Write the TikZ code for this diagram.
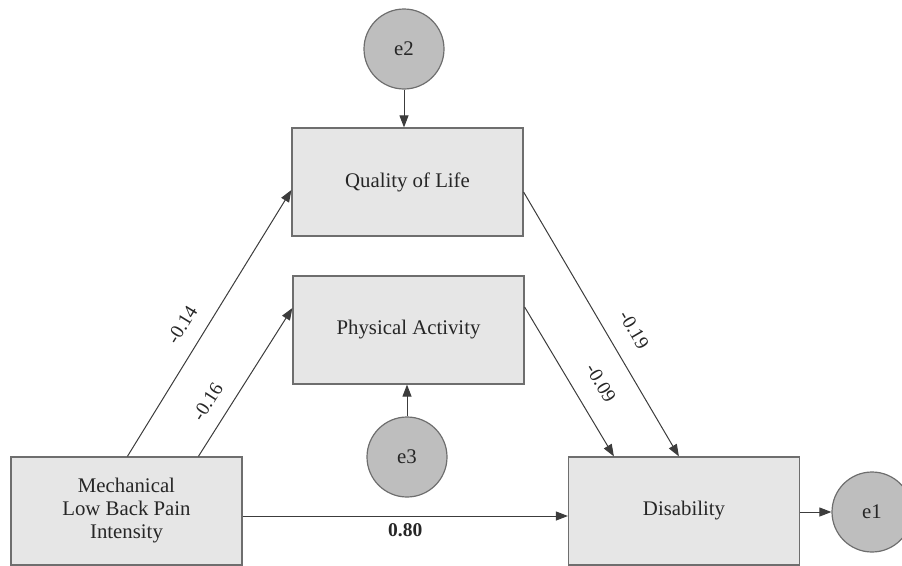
\documentclass[tikz,border=0pt]{standalone}
\usepackage{fontspec}
\setmainfont{Liberation Serif}
\usetikzlibrary{arrows.meta}
\definecolor{boxfill}{HTML}{E6E6E6}
\definecolor{boxline}{HTML}{6E6E6E}
\definecolor{errfill}{HTML}{BEBEBE}
\definecolor{linecol}{HTML}{3C3C3C}

\begin{document}
\begin{tikzpicture}[x=1pt,y=-1pt,
    var/.style={draw=boxline,fill=boxfill,line width=1.2pt,minimum width=231pt,minimum height=108pt,align=center,text=black!85,font=\fontsize{20.8}{23}\selectfont},
    err/.style={circle,draw=boxline,fill=errfill,line width=1.2pt,minimum size=80pt,inner sep=0pt,text=black!85,font=\fontsize{20.8}{23}\selectfont},
    link/.style={draw=linecol,line width=1pt,-{Triangle[length=12pt,width=9pt]}},
    coef/.style={sloped,text=black!85,font=\fontsize{19.5}{22}\selectfont}]
    \useasboundingbox (0,0) rectangle (902,565);
    \node[var] (qol) at (407.5,182) {Quality of Life};
    \node[var] (pa) at (408.5,330) {Physical Activity};
    \node[var] (mech) at (126.5,511) {Mechanical\\Low Back Pain\\Intensity};
    \node[var] (dis) at (684,511) {Disability};
    \node[err] (e2) at (404,49) {e2};
    \node[err] (e3) at (407,457) {e3};
    \node[err] (e1) at (872,512) {e1};
    \draw[link] ([xshift=117pt]mech.north west) -- node[coef,pos=0.45,above=12pt] {-0.14} ([yshift=-8pt]qol.west);
    \draw[link] ([xshift=188pt]mech.north west) -- node[coef,pos=0.29,above=11pt] {-0.16} ([yshift=22pt]pa.west);
    \draw[link] ([yshift=-10pt]qol.east) -- node[coef,pos=0.57,above=15pt] {-0.19} ([xshift=111pt]dis.north west);
    \draw[link] ([yshift=23pt]pa.east) -- node[coef,pos=0.6,above=16pt] {-0.09} ([xshift=46pt]dis.north west);
    \draw[link] ([yshift=-5pt]mech.east) -- node[below=4pt,text=black!85,font=\fontsize{19.5}{22}\selectfont\bfseries] {0.80} ([yshift=-5pt]dis.west);
    \draw[link] (e2.south) -- (e2.south |- qol.north);
    \draw[link] (e3.north) -- (e3.north |- pa.south);
    \draw[link] (dis.east |- e1) -- (e1.west);
\end{tikzpicture}
\end{document}
